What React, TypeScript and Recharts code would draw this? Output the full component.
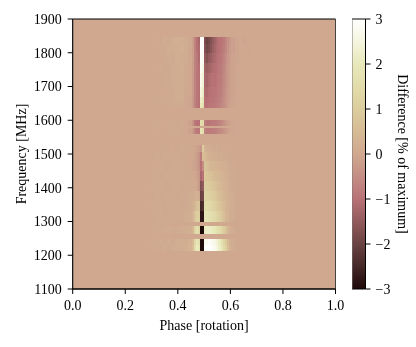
import { ComposedChart, ReferenceArea, ReferenceLine, XAxis, YAxis } from "recharts";

const FONT = "Liberation Serif";

const phaseTicks = [0, 0.2, 0.4, 0.6, 0.8, 1];
const freqTicks = [1100, 1200, 1300, 1400, 1500, 1600, 1700, 1800, 1900];
const diffTicks = [-3, -2, -1, 0, 1, 2, 3];

// value -> colour of the colour bar
const mapValues = [-3, -2.5, -2, -1.5, -1, -0.5, 0, 0.5, 1, 1.5, 2, 2.5, 3];
const mapColors = ["#1e0808", "#452828", "#6b4343", "#925a5c", "#b87276", "#c48e85", "#cfa88f", "#d6ba95", "#dccd9e", "#e2dcaa", "#e8e8bb", "#f5f5e0", "#ffffff"];

// phase bin edges of the pulse window, the rest of the panel is flat
const phaseEdges = [
  0.2969, 0.3125, 0.3281, 0.3438, 0.3594, 0.375, 0.3906, 0.4062, 0.4219, 0.4375, 0.4531,
  0.4609, 0.4688, 0.4766, 0.4844, 0.4922, 0.5, 0.5078, 0.5156, 0.5234, 0.5313, 0.5391,
  0.5469, 0.5547, 0.5625, 0.5703, 0.5781, 0.5859, 0.5938, 0.6016,
  0.6172, 0.6328, 0.6484, 0.6641, 0.6797, 0.6953,
];

// frequency rows, top to bottom
const rowTop = [1847, 1825, 1800, 1770, 1740, 1700, 1670, 1650, 1600, 1578, 1527, 1505, 1480, 1450, 1420, 1390, 1360, 1330, 1287, 1248, 1230];
const rowBottom = [1825, 1800, 1770, 1740, 1700, 1670, 1650, 1636, 1583, 1560, 1505, 1480, 1450, 1420, 1390, 1360, 1330, 1298, 1263, 1230, 1213];

const rowValues = [
  [0, 0.05, 0, 0.1, 0.05, 0.15, 0.2, 0.15, 0.1, 0.05, -0.2, -0.7, -1, -1.2, 3, 3, -1.8, -2, -1.9, -1.7, -1.5, -1.3, -1.15, -1, -0.95, -0.85, -0.65, -0.45, -0.3, -0.15, -0.05, 0, -0.05, 0.02, 0],
  [0.02, 0, 0.05, 0.05, 0.1, 0.1, 0.15, 0.2, 0.1, 0.02, -0.2, -0.7, -1, -1.1, 3, 2.9, -1.7, -1.9, -1.8, -1.6, -1.4, -1.25, -1.1, -1, -0.9, -0.8, -0.6, -0.4, -0.25, -0.15, -0.05, 0, 0.02, -0.02, 0],
  [0, 0.02, 0, 0.05, 0.1, 0.05, 0.15, 0.1, 0.1, 0, -0.2, -0.7, -0.9, -1.1, 2.9, 2.8, -1.5, -1.7, -1.5, -1.4, -1.25, -1.15, -1.05, -0.95, -0.85, -0.7, -0.5, -0.35, -0.2, -0.1, -0.05, 0.02, 0, 0.02, 0],
  [0.02, 0, 0.05, 0.02, 0.05, 0.1, 0.1, 0.15, 0.05, 0, -0.2, -0.7, -0.9, -1, 2.8, 2.6, -1.3, -1.4, -1.3, -1.2, -1.1, -1.05, -1, -0.9, -0.8, -0.65, -0.45, -0.3, -0.2, -0.1, -0.02, 0, 0.02, 0, 0],
  [0, 0.02, 0, 0.05, 0.05, 0.1, 0.1, 0.1, 0.05, 0, -0.25, -0.7, -0.9, -1, 2.7, 2.4, -1.2, -1.25, -1.15, -1.05, -1, -1, -0.95, -0.85, -0.75, -0.6, -0.45, -0.3, -0.2, -0.1, -0.02, 0.02, 0, 0.02, 0],
  [0.02, 0, 0.02, 0, 0.05, 0.05, 0.1, 0.1, 0.02, 0, -0.25, -0.7, -0.9, -1, 2.5, 2.2, -1.1, -1.15, -1.05, -1, -0.95, -0.95, -0.9, -0.8, -0.7, -0.55, -0.4, -0.25, -0.15, -0.1, -0.02, 0, 0.02, 0, 0],
  [0, 0.02, 0.02, 0.05, 0.02, 0.05, 0.1, 0.1, 0.02, -0.05, -0.3, -0.7, -0.9, -1, 2.2, 1.9, -1, -1.05, -1, -0.95, -0.95, -0.9, -0.85, -0.75, -0.65, -0.5, -0.35, -0.25, -0.15, -0.05, 0, 0.02, 0, 0, 0],
  [0, 0.02, 0, 0.02, 0.02, 0.05, 0.05, 0.05, 0, -0.05, -0.3, -0.7, -0.9, -1, 2, 1.7, -1, -1, -0.95, -0.9, -0.9, -0.85, -0.8, -0.7, -0.6, -0.5, -0.35, -0.2, -0.1, -0.05, 0, 0, 0.02, 0, 0],
  [0.02, 0.05, 0, 0.05, 0.02, 0.05, 0.02, 0.05, 0, -0.1, -0.4, -0.9, -1, -1, 1.6, 1.4, -0.8, -0.95, -0.95, -0.9, -0.85, -0.85, -0.8, -0.7, -0.6, -0.45, -0.3, -0.2, -0.1, -0.05, 0, 0.02, 0, 0.02, 0],
  [0, 0.05, 0.02, 0, 0.05, 0.02, 0.05, 0.02, 0, -0.1, -0.3, -0.7, -0.9, -0.9, 1.8, 1.6, -0.7, -0.85, -0.85, -0.8, -0.8, -0.75, -0.7, -0.6, -0.5, -0.4, -0.3, -0.15, -0.1, -0.05, 0.02, 0, 0.02, 0, 0],
  [0.02, 0, 0.02, 0.02, 0, 0.05, 0.02, 0.05, 0.02, 0.02, 0, -0.05, -0.1, -0.2, -0.3, 1, 0.3, 0.15, 0.1, 0.1, 0.05, 0.05, 0.1, 0.05, 0.05, 0, 0.05, 0, 0, 0, 0.02, 0, 0.02, 0, 0],
  [0.02, 0.05, 0, 0.05, 0.02, 0.02, 0.05, 0.02, 0.02, 0, 0, -0.1, -0.2, -0.4, -0.8, 0.6, 0.5, 0.3, 0.25, 0.2, 0.2, 0.15, 0.15, 0.1, 0.1, 0.05, 0.05, 0.05, 0, 0, 0.02, 0, 0, 0.02, 0],
  [0.02, 0, 0.05, 0.02, 0.02, 0.05, 0.05, 0.05, 0.02, 0, -0.05, -0.1, -0.2, -0.4, -1, -0.5, 0.7, 0.6, 0.5, 0.4, 0.4, 0.35, 0.3, 0.25, 0.2, 0.2, 0.15, 0.1, 0.05, 0.05, 0, 0.02, 0, 0, 0],
  [0, 0.05, 0.02, 0.05, 0.05, 0.02, 0.05, 0.05, 0.02, 0.02, 0, 0, -0.1, -0.3, -1.2, -1, 0.9, 0.8, 0.7, 0.65, 0.6, 0.5, 0.45, 0.4, 0.3, 0.25, 0.2, 0.15, 0.1, 0.05, 0.02, 0, 0.02, 0, 0],
  [0.05, 0.02, 0.05, 0.02, 0.02, 0.05, 0.05, 0.02, 0.05, 0.05, 0.05, 0.05, 0, -0.3, -1.7, -1.5, 1.1, 1, 0.95, 0.85, 0.8, 0.7, 0.6, 0.5, 0.4, 0.3, 0.25, 0.2, 0.1, 0.05, 0.02, 0.02, 0, 0.02, 0],
  [0.02, 0.05, 0.02, 0.05, 0.05, 0.05, 0.02, 0.05, 0.05, 0.1, 0.1, 0.2, 0.25, 0.1, -2, -1.9, 1.3, 1.2, 1.15, 1.05, 1, 0.9, 0.75, 0.6, 0.5, 0.4, 0.3, 0.2, 0.15, 0.1, 0.02, 0, 0.02, 0, 0],
  [0.05, 0.02, 0.05, 0.02, 0.05, 0.05, 0.05, 0.02, 0.05, 0.1, 0.2, 0.4, 0.7, 0.7, -2.5, -2.4, 1.5, 1.45, 1.4, 1.3, 1.2, 1.1, 0.95, 0.8, 0.6, 0.5, 0.35, 0.25, 0.15, 0.1, 0.02, 0.02, 0, 0.02, 0],
  [0.02, 0.05, 0.05, 0.02, 0.05, 0.02, 0.05, 0.05, 0.1, 0.15, 0.3, 0.8, 1.1, 1, -2.8, -2.8, 1.8, 1.75, 1.7, 1.6, 1.5, 1.35, 1.2, 1, 0.8, 0.6, 0.4, 0.3, 0.15, 0.1, 0.02, 0, 0.02, 0, 0],
  [0.05, 0.02, 0.05, 0.05, 0.1, 0.05, 0.05, 0.1, 0.1, 0.2, 0.4, 1.2, 1.6, 1.3, -3, -3, 2.1, 2.2, 2.2, 2.1, 2, 1.9, 1.7, 1.5, 1.2, 1, 0.7, 0.4, 0.2, 0.1, 0.02, 0.02, 0, 0.02, 0],
  [0.05, 0.05, 0.1, 0.05, 0.1, 0.05, 0.15, 0.15, 0.15, 0.25, 0.5, 1.4, 1.9, 1.6, -3, -3, 2.7, 2.8, 2.9, 2.8, 2.7, 2.6, 2.4, 2.1, 1.7, 1.3, 0.9, 0.5, 0.2, 0.1, 0.02, 0, 0.02, 0, 0],
  [0.05, 0.05, 0.05, 0.1, 0.05, 0.1, 0.1, 0.15, 0.2, 0.3, 0.6, 1.5, 2.1, 1.8, -3, -3, 2.9, 3, 3, 2.9, 2.8, 2.7, 2.5, 2.2, 1.8, 1.4, 1, 0.6, 0.25, 0.1, 0.02, 0.02, 0, 0, 0],
];

const hex = (c: string, i: number) => parseInt(c.slice(1 + i * 2, 3 + i * 2), 16);

function colorOf(v: number) {
  const clamped = Math.max(-3, Math.min(3, v));
  let i = mapValues.findIndex((m) => clamped <= m);
  if (i < 1) i = 1;
  const t = (clamped - mapValues[i - 1]) / (mapValues[i] - mapValues[i - 1]);
  const ch = [0, 1, 2].map((k) => Math.round(hex(mapColors[i - 1], k) * (1 - t) + hex(mapColors[i], k) * t));
  return `rgb(${ch[0]},${ch[1]},${ch[2]})`;
}

const axisTick = { fill: "#000", fontSize: 14, fontFamily: FONT };
const axisLabel = { fill: "#000", fontSize: 14, fontFamily: FONT };
const minus = (v: number) => String(v).replace("-", "\u2212");

// the axes need a y key in the rows or the domain is not applied
const heatData = freqTicks.map((f, i) => ({ p: phaseTicks[i % phaseTicks.length], f }));
const barData = diffTicks.map((d, i) => ({ p: i % 2, d }));

function Heatmap() {
  return (
    <ComposedChart width={416} height={347} data={heatData} margin={{ top: 19, right: 80.5, bottom: 18, left: 0 }}>
      <XAxis
        type="number"
        dataKey="p"
        domain={[0, 1]}
        ticks={phaseTicks}
        tickFormatter={(v: number) => v.toFixed(1)}
        tick={axisTick}
        tickSize={5}
        tickMargin={6}
        height={40}
        interval={0}
        stroke="#000"
        label={{ value: "Phase [rotation]", position: "insideBottom", offset: -1, style: axisLabel }}
      />
      <YAxis
        type="number"
        dataKey="f"
        domain={[1100, 1900]}
        ticks={freqTicks}
        tick={axisTick}
        tickSize={5}
        tickMargin={6}
        width={72.7}
        interval={0}
        stroke="#000"
        label={{ value: "Frequency [MHz]", angle: -90, position: "insideLeft", offset: 21, style: { ...axisLabel, textAnchor: "middle" } }}
      />
      <ReferenceArea x1={0} x2={1} y1={1100} y2={1900} fill={colorOf(0)} fillOpacity={1} stroke="none" />
      {rowValues.flatMap((row, r) =>
        row.map((v, c) => (
          <ReferenceArea
            key={`${r}-${c}`}
            x1={phaseEdges[c]}
            x2={phaseEdges[c + 1]}
            y1={rowBottom[r]}
            y2={rowTop[r]}
            fill={colorOf(v)}
            fillOpacity={1}
            stroke="none"
            shapeRendering="crispEdges"
          />
        ))
      )}
      <ReferenceLine y={1900} stroke="#000" />
      <ReferenceLine y={1100} stroke="#000" />
      <ReferenceLine x={1} stroke="#444" />
      <ReferenceLine x={0} stroke="#777" />
    </ComposedChart>
  );
}

function ColorBar() {
  const stops = mapValues.map((v, i) => (
    <stop key={v} offset={`${((3 - v) / 6) * 100}%`} stopColor={mapColors[i]} />
  ));
  return (
    <ComposedChart width={64} height={347} data={barData} margin={{ top: 19, right: 0, bottom: 58, left: 0 }}>
      <defs>
        <linearGradient id="diffScale" x1="0" y1="0" x2="0" y2="1">
          {[...stops].reverse()}
        </linearGradient>
      </defs>
      <XAxis type="number" dataKey="p" domain={[0, 1]} hide />
      <YAxis
        orientation="right"
        type="number"
        dataKey="d"
        domain={[-3, 3]}
        ticks={diffTicks}
        tickFormatter={minus}
        tick={axisTick}
        tickSize={5}
        tickMargin={5}
        width={50.5}
        interval={0}
        stroke="#000"
        label={{ value: "Difference [% of maximum]", angle: 90, position: "insideRight", offset: 13, style: { ...axisLabel, textAnchor: "middle" } }}
      />
      <ReferenceArea x1={0} x2={1} y1={-3} y2={3} fill="url(#diffScale)" fillOpacity={1} stroke="none" />
      <ReferenceLine y={3} stroke="#000" />
      <ReferenceLine y={-3} stroke="#000" />
      <ReferenceLine x={0} stroke="#777" />
    </ComposedChart>
  );
}

export default function App() {
  return (
    <div style={{ position: "absolute", left: 0, top: 0, width: 416, height: 347, background: "#fff", fontFamily: FONT, filter: "blur(0.35px)" }}>
      <div style={{ position: "absolute", left: 0, top: 0 }}>
        <Heatmap />
      </div>
      <div style={{ position: "absolute", left: 352, top: 0 }}>
        <ColorBar />
      </div>
    </div>
  );
}
